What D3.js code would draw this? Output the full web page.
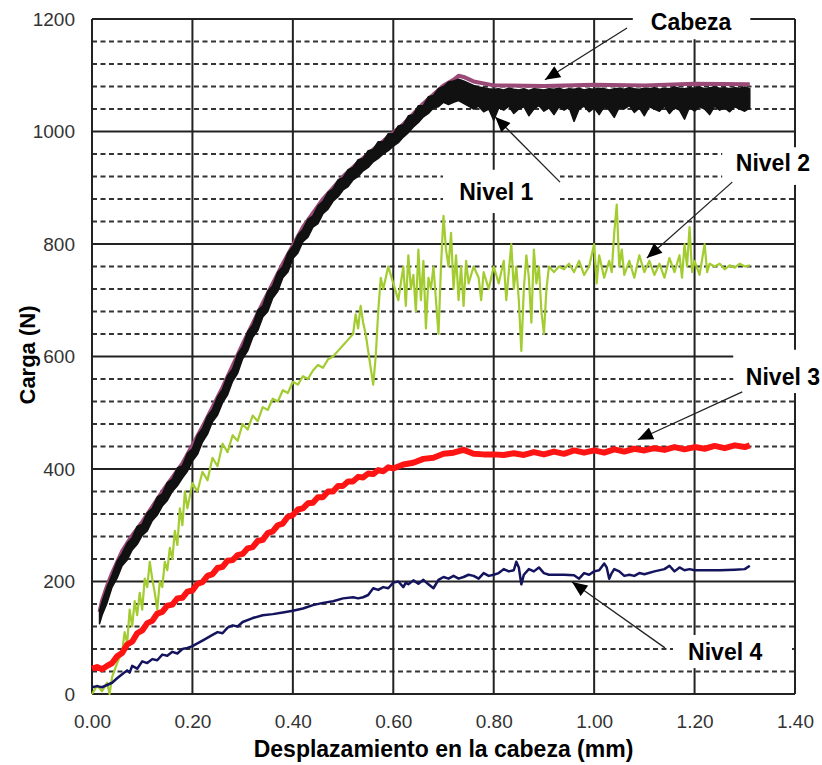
<!DOCTYPE html>
<html><head><meta charset="utf-8">
<script src="https://cdn.jsdelivr.net/npm/d3@7"></script>
<style>
html,body{margin:0;padding:0;background:#fff;}
svg{display:block;font-family:Arial,"Liberation Sans",sans-serif;}
</style></head>
<body>
<svg id="chart" width="822" height="765"></svg>
<script>
// ---- data ----
const xTicks = [0.00,0.20,0.40,0.60,0.80,1.00,1.20,1.40];
const yTicks = [0,200,400,600,800,1000,1200];
const yMinor = [40,80,120,160,240,280,320,360,440,480,520,560,640,680,720,760,840,880,920,960,1040,1080,1120,1160];

// Cabeza (pink) : [mm, N]
const cabeza = [[0.015,146],[0.02,166],[0.03,192],[0.04,215],[0.06,254],[0.08,282],[0.10,306],[0.14,360],[0.18,410],[0.22,475],[0.26,545],[0.30,622],[0.34,695],[0.38,765],[0.42,830],[0.46,880],[0.50,920],[0.54,953],[0.58,983],[0.62,1013],[0.66,1050],[0.70,1082],[0.72,1092],[0.73,1099],[0.74,1097],[0.76,1089],[0.80,1082],[0.90,1081],[1.00,1083],[1.10,1082],[1.20,1085],[1.31,1084]];

// Nivel 1 (black, noisy band) : [mm, low N, high N]
const nivel1 = [[0.015,125,148],[0.02,140,164],[0.03,162,190],[0.04,190,212],[0.05,206,236],[0.06,228,250],[0.07,238,268],[0.08,256,278],[0.09,266,298],[0.10,282,302],[0.11,290,322],[0.12,308,330],[0.13,318,350],[0.14,334,356],[0.15,344,376],[0.16,360,382],[0.17,370,402],[0.18,384,406],[0.19,396,428],[0.20,414,436],[0.21,426,460],[0.22,448,472],[0.23,462,494],[0.24,484,506],[0.25,496,528],[0.26,518,542],[0.27,532,566],[0.28,556,578],[0.29,570,604],[0.30,596,618],[0.31,610,644],[0.32,634,656],[0.33,646,682],[0.34,670,690],[0.35,680,716],[0.36,704,726],[0.37,716,750],[0.38,740,760],[0.39,750,784],[0.40,774,796],[0.41,784,816],[0.42,804,826],[0.43,812,844],[0.44,830,850],[0.45,836,868],[0.46,854,876],[0.47,862,892],[0.48,876,898],[0.49,884,914],[0.50,896,918],[0.51,902,932],[0.52,914,936],[0.53,920,950],[0.54,930,952],[0.55,936,966],[0.56,946,968],[0.57,952,982],[0.58,960,982],[0.59,966,996],[0.60,974,996],[0.61,980,1010],[0.62,990,1012],[0.63,998,1028],[0.64,1008,1030],[0.65,1016,1046],[0.66,1026,1046],[0.67,1032,1062],[0.68,1042,1064],[0.69,1044,1076],[0.70,1052,1080],[0.71,1048,1088],[0.72,1052,1090],[0.73,1055,1093],[0.74,1050,1090],[0.75,1045,1086],[0.76,1040,1082],[0.77,1045,1079],[0.78,1035,1078],[0.79,1040,1076],[0.80,1020,1075],[0.81,1042,1076],[0.82,1038,1074],[0.83,1045,1077],[0.84,1032,1075],[0.85,1040,1074],[0.86,1044,1076],[0.87,1028,1073],[0.88,1040,1076],[0.89,1046,1075],[0.90,1036,1074],[0.91,1042,1076],[0.92,1030,1075],[0.93,1044,1077],[0.94,1038,1074],[0.95,1043,1076],[0.96,1018,1075],[0.97,1040,1077],[0.98,1045,1074],[0.99,1035,1076],[1.00,1042,1075],[1.01,1030,1077],[1.02,1044,1076],[1.03,1038,1074],[1.04,1025,1076],[1.05,1043,1077],[1.06,1040,1075],[1.07,1046,1078],[1.08,1034,1076],[1.09,1042,1075],[1.10,1028,1077],[1.11,1044,1076],[1.12,1040,1078],[1.13,1036,1075],[1.14,1045,1077],[1.15,1032,1076],[1.16,1042,1079],[1.17,1038,1077],[1.18,1022,1076],[1.19,1043,1078],[1.20,1036,1077],[1.21,1044,1079],[1.22,1040,1076],[1.23,1030,1078],[1.24,1045,1079],[1.25,1038,1077],[1.26,1042,1078],[1.27,1035,1076],[1.28,1044,1078],[1.29,1040,1077],[1.30,1036,1079],[1.31,1042,1076]];

// Nivel 2 (yellow-green) : [mm, N]
const nivel2 = [[0.00,0],[0.01,15],[0.02,5],[0.03,20],[0.035,0],[0.04,30],[0.05,55],[0.06,75],[0.065,110],[0.07,90],[0.075,150],[0.08,120],[0.085,165],[0.09,140],[0.095,180],[0.10,150],[0.105,205],[0.11,190],[0.115,235],[0.12,205],[0.125,180],[0.13,150],[0.135,200],[0.14,190],[0.145,235],[0.15,220],[0.155,260],[0.16,240],[0.165,290],[0.17,265],[0.175,330],[0.18,300],[0.185,360],[0.19,330],[0.20,375],[0.21,360],[0.22,395],[0.23,380],[0.24,420],[0.25,405],[0.26,445],[0.27,430],[0.28,460],[0.29,450],[0.30,480],[0.31,470],[0.32,495],[0.33,485],[0.34,510],[0.35,505],[0.36,525],[0.37,520],[0.38,540],[0.39,535],[0.40,555],[0.41,550],[0.42,565],[0.43,560],[0.44,575],[0.45,585],[0.46,580],[0.47,595],[0.48,600],[0.49,610],[0.50,620],[0.51,630],[0.52,640],[0.525,675],[0.53,650],[0.535,690],[0.54,660],[0.545,640],[0.55,610],[0.555,580],[0.56,550],[0.565,600],[0.57,680],[0.575,740],[0.58,720],[0.59,760],[0.60,730],[0.61,700],[0.62,760],[0.625,690],[0.63,780],[0.635,720],[0.64,745],[0.645,680],[0.65,790],[0.655,700],[0.66,770],[0.665,650],[0.67,740],[0.675,720],[0.68,760],[0.685,700],[0.69,640],[0.695,760],[0.70,850],[0.705,790],[0.71,760],[0.715,820],[0.72,720],[0.725,780],[0.73,700],[0.735,760],[0.74,690],[0.745,770],[0.75,730],[0.76,760],[0.77,740],[0.775,700],[0.78,750],[0.79,720],[0.80,760],[0.81,730],[0.82,770],[0.825,700],[0.83,750],[0.835,800],[0.84,720],[0.845,760],[0.85,700],[0.855,610],[0.86,720],[0.865,780],[0.87,740],[0.875,660],[0.88,790],[0.885,730],[0.89,760],[0.895,680],[0.90,640],[0.905,720],[0.91,760],[0.92,750],[0.93,760],[0.94,755],[0.95,765],[0.96,750],[0.97,770],[0.98,745],[0.99,760],[1.00,800],[1.005,730],[1.01,780],[1.02,740],[1.03,770],[1.035,750],[1.04,820],[1.045,870],[1.05,760],[1.055,790],[1.06,745],[1.07,770],[1.08,740],[1.09,780],[1.10,750],[1.11,770],[1.12,745],[1.13,765],[1.14,740],[1.15,775],[1.16,750],[1.17,780],[1.175,740],[1.18,800],[1.185,760],[1.19,830],[1.195,750],[1.20,770],[1.21,745],[1.22,800],[1.225,750],[1.23,765],[1.24,760],[1.25,765],[1.26,755],[1.27,762],[1.28,758],[1.29,765],[1.30,760],[1.31,762]];

// Nivel 3 (red) : [mm, N]
const nivel3 = [[0.00,45],[0.01,48],[0.02,44],[0.03,50],[0.04,55],[0.05,67],[0.06,73],[0.07,88],[0.08,93],[0.09,108],[0.10,113],[0.11,126],[0.12,130],[0.13,143],[0.14,146],[0.15,157],[0.16,159],[0.17,170],[0.18,171],[0.19,182],[0.20,184],[0.21,196],[0.22,199],[0.23,210],[0.24,213],[0.25,224],[0.26,226],[0.27,237],[0.28,238],[0.29,247],[0.30,249],[0.31,259],[0.32,261],[0.33,272],[0.34,274],[0.35,286],[0.36,289],[0.37,300],[0.38,303],[0.39,315],[0.40,318],[0.41,328],[0.42,330],[0.43,339],[0.44,340],[0.45,350],[0.46,350],[0.47,360],[0.48,360],[0.49,370],[0.50,370],[0.51,378],[0.52,378],[0.53,386],[0.54,385],[0.55,392],[0.56,391],[0.57,398],[0.58,396],[0.59,403],[0.60,401],[0.62,408],[0.64,411],[0.66,418],[0.68,420],[0.70,427],[0.72,429],[0.74,434],[0.76,427],[0.78,426],[0.80,426],[0.82,425],[0.84,428],[0.86,425],[0.88,430],[0.90,426],[0.92,431],[0.94,427],[0.96,433],[0.98,429],[1.00,433],[1.02,429],[1.04,435],[1.06,431],[1.08,436],[1.10,433],[1.12,437],[1.14,434],[1.16,439],[1.18,435],[1.20,439],[1.22,436],[1.24,441],[1.26,437],[1.28,442],[1.30,439],[1.31,442]];

// Nivel 4 (navy) : [mm, N]
const nivel4 = [[0.00,12],[0.01,14],[0.02,12],[0.03,16],[0.04,20],[0.05,28],[0.06,35],[0.07,42],[0.075,38],[0.08,50],[0.09,45],[0.10,58],[0.11,55],[0.12,62],[0.13,60],[0.14,70],[0.15,68],[0.16,75],[0.17,72],[0.18,80],[0.19,82],[0.20,85],[0.22,95],[0.24,105],[0.25,110],[0.26,108],[0.27,118],[0.28,122],[0.29,120],[0.30,128],[0.32,135],[0.34,140],[0.36,142],[0.38,145],[0.40,148],[0.42,152],[0.44,158],[0.46,162],[0.48,165],[0.50,170],[0.52,172],[0.53,170],[0.54,172],[0.55,176],[0.56,188],[0.57,185],[0.58,190],[0.59,188],[0.60,198],[0.61,200],[0.62,190],[0.625,198],[0.63,195],[0.64,202],[0.65,196],[0.66,203],[0.67,195],[0.68,188],[0.69,203],[0.70,208],[0.71,205],[0.72,210],[0.73,205],[0.74,208],[0.75,212],[0.76,210],[0.77,205],[0.78,215],[0.79,210],[0.80,212],[0.81,215],[0.82,222],[0.83,218],[0.84,220],[0.845,235],[0.85,225],[0.855,195],[0.86,212],[0.87,222],[0.88,218],[0.89,225],[0.90,215],[0.91,212],[0.92,212],[0.94,212],[0.96,211],[0.97,205],[0.98,215],[0.99,212],[1.00,218],[1.01,220],[1.02,232],[1.025,225],[1.03,205],[1.035,215],[1.04,222],[1.05,218],[1.06,210],[1.07,212],[1.08,210],[1.09,215],[1.10,213],[1.12,218],[1.14,222],[1.15,228],[1.16,218],[1.17,225],[1.18,220],[1.19,222],[1.20,220],[1.22,220],[1.25,220],[1.28,221],[1.30,222],[1.31,228]];

// annotations (data units): label, text centre, arrow from, arrow to, white box [x0,x1,y0,y1]
const labels = ["Cabeza","Nivel 1","Nivel 2","Nivel 3","Nivel 4"];
const labelPos = [[1.193,1195],[0.805,892],[1.356,944],[1.376,564],[1.261,75]];
const arrowFrom = [[1.0655,1184],[0.932,910],[1.275,910],[1.295,537],[1.141,82]];
const arrowTo = [[0.902,1092],[0.803,1026],[1.105,775],[1.087,452],[0.956,199]];
const labelBox = [[1.077,1.311,1234,1164],[0.699,0.932,932,855],[1.255,1.46,972,905],[1.277,1.46,612,535],[1.157,1.394,105,46]];

// ---- chart ----
const W = 822, H = 765;
const M = {left:92, right:27, top:19, bottom:71};
const svg = d3.select("#chart");
svg.append("rect").attr("width",W).attr("height",H).attr("fill","#fff");
const x = d3.scaleLinear().domain([0,1.4]).range([M.left, W-M.right]);
const y = d3.scaleLinear().domain([0,1200]).range([H-M.bottom, M.top]);

// minor dashed horizontal grid
svg.append("g").selectAll("line").data(yMinor).join("line")
  .attr("x1",x(0)).attr("x2",x(1.4)).attr("y1",d=>y(d)).attr("y2",d=>y(d))
  .attr("stroke","#333").attr("stroke-width",2).attr("stroke-dasharray","5,3.5");
// major grid
svg.append("g").selectAll("line").data(yTicks).join("line")
  .attr("x1",x(0)).attr("x2",x(1.4)).attr("y1",d=>y(d)).attr("y2",d=>y(d))
  .attr("stroke","#222").attr("stroke-width",2);
svg.append("g").selectAll("line").data(xTicks).join("line")
  .attr("x1",d=>x(d)).attr("x2",d=>x(d)).attr("y1",y(0)).attr("y2",y(1200))
  .attr("stroke","#222").attr("stroke-width",2);

// axes (labels only)
const xa = svg.append("g").attr("transform",`translate(0,${y(0)})`)
  .call(d3.axisBottom(x).tickValues(xTicks).tickFormat(d3.format(".2f")).tickSize(0).tickPadding(21));
const ya = svg.append("g").attr("transform",`translate(${x(0)},0)`)
  .call(d3.axisLeft(y).tickValues(yTicks).tickFormat(d3.format("d")).tickSize(0).tickPadding(17));
[xa,ya].forEach(a=>{
  a.select(".domain").remove();
  a.selectAll("text").attr("font-size",19).attr("fill","#333").attr("font-family","Arial, 'Liberation Sans', sans-serif");
});

// white label boxes
svg.append("g").selectAll("rect").data(labelBox).join("rect")
  .attr("x",d=>x(d[0])).attr("width",d=>x(d[1])-x(d[0]))
  .attr("y",d=>y(d[2])).attr("height",d=>y(d[3])-y(d[2]))
  .attr("fill","#fff");

// series
const line = d3.line().x(d=>x(d[0])).y(d=>y(d[1]));
svg.append("path").datum(cabeza).attr("d",line)
  .attr("fill","none").attr("stroke","#9b4a78").attr("stroke-width",4).attr("stroke-linejoin","round");
const band = d3.area().x(d=>x(d[0])).y0(d=>y(d[1])).y1(d=>y(d[2]));
svg.append("path").datum(nivel1).attr("d",band)
  .attr("fill","#111").attr("stroke","#111").attr("stroke-width",1.5).attr("stroke-linejoin","round");
svg.append("path").datum(nivel2).attr("d",line)
  .attr("fill","none").attr("stroke","#a2cc30").attr("stroke-width",2.2).attr("stroke-linejoin","round");
svg.append("path").datum(nivel3).attr("d",line)
  .attr("fill","none").attr("stroke","#ff1414").attr("stroke-width",6).attr("stroke-linejoin","round");
svg.append("path").datum(nivel4).attr("d",line)
  .attr("fill","none").attr("stroke","#14145e").attr("stroke-width",2.5).attr("stroke-linejoin","round");

// arrows
svg.append("defs").append("marker").attr("id","ah")
  .attr("viewBox","0 0 14 12").attr("refX",14).attr("refY",6)
  .attr("markerWidth",16).attr("markerHeight",13).attr("markerUnits","userSpaceOnUse")
  .attr("orient","auto")
  .append("path").attr("d","M0,0 L14,6 L0,12 Z").attr("fill","#000");
svg.append("g").selectAll("line").data(labels).join("line")
  .attr("x1",(d,i)=>x(arrowFrom[i][0])).attr("y1",(d,i)=>y(arrowFrom[i][1]))
  .attr("x2",(d,i)=>x(arrowTo[i][0])).attr("y2",(d,i)=>y(arrowTo[i][1]))
  .attr("stroke","#222").attr("stroke-width",1.3).attr("marker-end","url(#ah)");

// labels
svg.append("g").selectAll("text").data(labels).join("text")
  .attr("x",(d,i)=>x(labelPos[i][0])).attr("y",(d,i)=>y(labelPos[i][1]))
  .attr("text-anchor","middle").attr("dominant-baseline","central")
  .attr("font-size",23).attr("font-weight","bold").attr("fill","#000").text(d=>d);

// axis titles
svg.append("text").attr("x",(x(0)+x(1.4))/2).attr("y",757)
  .attr("text-anchor","middle").attr("font-size",23).attr("font-weight","bold")
  .text("Desplazamiento en la cabeza (mm)");
svg.append("text").attr("transform",`translate(35,355) rotate(-90)`)
  .attr("text-anchor","middle").attr("font-size",22).attr("font-weight","bold")
  .text("Carga (N)");
</script>
</body></html>
